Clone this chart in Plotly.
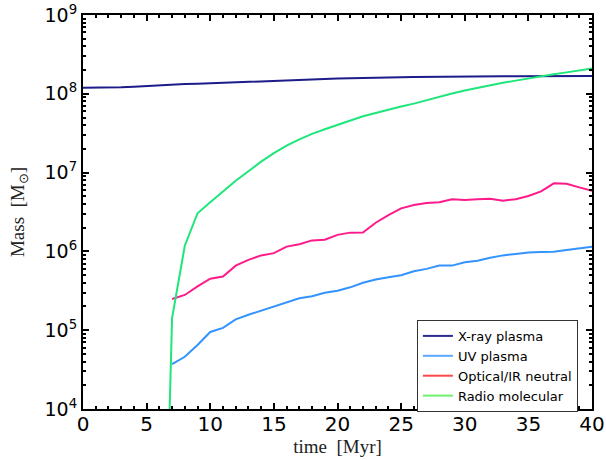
import plotly.graph_objects as go

# ---- data ----
t_xray = list(range(0, 41))
m_xray = [1.19e8, 1.19e8, 1.20e8, 1.21e8, 1.23e8, 1.26e8, 1.29e8, 1.31e8, 1.33e8, 1.34e8,
          1.36e8, 1.38e8, 1.40e8, 1.42e8, 1.45e8, 1.48e8, 1.50e8, 1.51e8, 1.53e8, 1.55e8,
          1.56e8, 1.57e8, 1.59e8, 1.60e8, 1.61e8, 1.62e8, 1.63e8, 1.64e8, 1.64e8, 1.65e8,
          1.65e8, 1.66e8, 1.66e8, 1.67e8, 1.67e8, 1.67e8, 1.68e8, 1.68e8, 1.68e8, 1.68e8,
          1.68e8]

t_uv = list(range(7, 41))
m_uv = [3.7e4, 4.6e4, 6.5e4, 9.5e4, 1.07e5, 1.37e5, 1.57e5, 1.77e5, 1.97e5, 2.26e5,
        2.54e5, 2.70e5, 2.99e5, 3.17e5, 3.5e5, 4.0e5, 4.4e5, 4.7e5, 4.98e5, 5.6e5,
        6.0e5, 6.6e5, 6.6e5, 7.3e5, 7.6e5, 8.3e5, 8.9e5, 9.27e5, 9.7e5, 9.8e5,
        9.9e5, 1.04e6, 1.09e6, 1.15e6]

t_opt = list(range(7, 41))
m_opt = [2.49e5, 2.8e5, 3.6e5, 4.5e5, 4.8e5, 6.6e5, 7.8e5, 8.9e5, 9.5e5, 1.15e6,
         1.23e6, 1.38e6, 1.41e6, 1.62e6, 1.73e6, 1.74e6, 2.31e6, 2.89e6, 3.52e6, 3.88e6,
         4.1e6, 4.2e6, 4.6e6, 4.49e6, 4.6e6, 4.67e6, 4.4e6, 4.6e6, 5.05e6, 5.78e6,
         7.3e6, 7.2e6, 6.5e6, 5.9e6]

t_radio = [6.8] + list(range(7, 41))
m_radio = [9e3, 1.42e5, 1.18e6, 3.05e6, 4.2e6, 5.7e6, 7.9e6, 1.04e7, 1.38e7, 1.77e7,
           2.2e7, 2.64e7, 3.1e7, 3.55e7, 4.05e7, 4.65e7, 5.2e7, 5.7e7, 6.3e7, 6.9e7,
           7.5e7, 8.3e7, 9.2e7, 1.01e8, 1.1e8, 1.19e8, 1.28e8, 1.38e8, 1.47e8, 1.57e8,
           1.67e8, 1.77e8, 1.87e8, 1.98e8, 2.1e8]

names = ["X-ray plasma", "UV plasma", "Optical/IR neutral", "Radio molecular"]
line_colors = ["#1c1c8a", "#3393ff", "#ff1a8a", "#1ee67a"]
legend_colors = ["#2a2a8f", "#5aa8ff", "#ff4848", "#6ef06e"]

y_tickvals = [1e4, 1e5, 1e6, 1e7, 1e8, 1e9]
y_ticktext = ["10<sup>4</sup>", "10<sup>5</sup>", "10<sup>6</sup>",
              "10<sup>7</sup>", "10<sup>8</sup>", "10<sup>9</sup>"]
y_minor = [m * d for d in [1e4, 1e5, 1e6, 1e7, 1e8] for m in range(2, 10)]
x_tickvals = [0, 5, 10, 15, 20, 25, 30, 35, 40]

fig = go.Figure()
series = [(t_xray, m_xray), (t_uv, m_uv), (t_opt, m_opt), (t_radio, m_radio)]
for (tx, my), c in zip(series, line_colors):
    fig.add_trace(go.Scatter(x=tx, y=my, mode="lines", line=dict(color=c, width=2),
                             showlegend=False))
for n, c in zip(names, legend_colors):
    fig.add_trace(go.Scatter(x=[None], y=[None], mode="lines", name=n,
                             line=dict(color=c, width=2)))

axis_common = dict(showline=True, linecolor="black", linewidth=2, mirror="allticks",
                   ticks="inside", ticklen=6, tickwidth=1.5, tickcolor="black",
                   showgrid=False, zeroline=False, automargin=False)

fig.update_xaxes(range=[0, 40], tickvals=x_tickvals, ticklabelstandoff=-4,
                 tickfont=dict(family="DejaVu Sans", size=20, color="black"),
                 minor=dict(ticks="inside", dtick=1, ticklen=3, tickcolor="black", showgrid=False),
                 title=dict(text="time  [Myr]", font=dict(family="Liberation Serif", size=19, color="#222"),
                            standoff=2),
                 **axis_common)
fig.update_yaxes(type="log", range=[4, 9], tickvals=y_tickvals, ticktext=y_ticktext,
                 tickfont=dict(family="DejaVu Sans", size=19, color="black"),
                 minor=dict(ticks="inside", tickvals=y_minor, ticklen=3, tickcolor="black", showgrid=False),
                 title=dict(text="Mass  [M<sub>⊙</sub>]", font=dict(family="Liberation Serif", size=19, color="#222")),
                 **axis_common)

fig.update_layout(
    width=606, height=460,
    margin=dict(l=83, r=14, t=15, b=51),
    paper_bgcolor="white", plot_bgcolor="white",
    legend=dict(x=0.656, y=0.226, xanchor="left", yanchor="top",
                bordercolor="#333", borderwidth=1, bgcolor="white",
                font=dict(family="DejaVu Sans", size=13, color="black"),
                itemwidth=30, tracegroupgap=0),
)

fig.write_html("out.html", config={"displayModeBar": False},
               post_script="document.body.style.margin='0';")
